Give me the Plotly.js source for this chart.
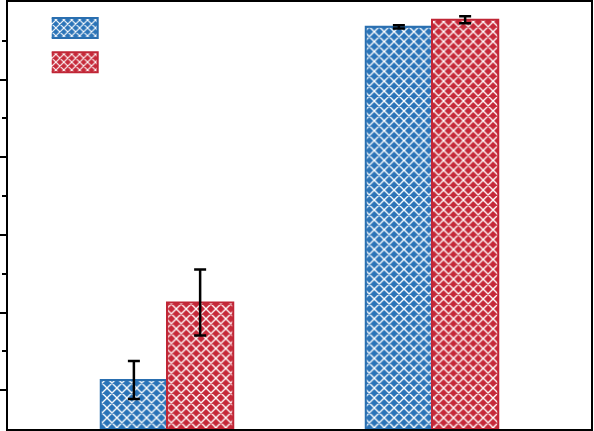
<!DOCTYPE html>
<html>
<head>
<meta charset="utf-8">
<script src="https://cdn.plot.ly/plotly-3.0.1.min.js"></script>
<style>html,body{margin:0;padding:0;background:#fff;}#chart{width:594px;height:431px;}</style>
</head>
<body>
<div id="chart"></div>
<script>
// Data (arbitrary y units; axis carries no labels)
const categories = ["A", "B"];
const seriesNames = ["", " "];
const blueValues = [1.26, 10.36];
const blueErrors = [0.49, 0.04];
const redValues = [3.26, 10.54];
const redErrors = [0.85, 0.09];
const majorTicks = [1, 3, 5, 7, 9];
const minorTicks = [2, 4, 6, 8, 10];

const BLUE = "#2b74b8", BLUE_EDGE = "#2a6fb0";
const RED = "#c62a3a", RED_EDGE = "#c02636";

function barTrace(name, vals, errs, color, edge) {
  return {
    type: "bar", name: name, x: categories, y: vals,
    marker: {
      color: color,
      line: {color: edge, width: 2},
      pattern: {shape: "x", bgcolor: color, fgcolor: "#ffffff", size: 7, solidity: 0.35, fillmode: "replace"}
    },
    error_y: {type: "data", array: errs, visible: true, color: "#000", thickness: 2.5, width: 6}
  };
}

const data = [
  barTrace(seriesNames[0], blueValues, blueErrors, BLUE, BLUE_EDGE),
  barTrace(seriesNames[1], redValues, redErrors, RED, RED_EDGE)
];

const layout = {
  width: 594, height: 431,
  margin: {l: 8, r: 3, t: 2, b: 2, pad: 0},
  paper_bgcolor: "#fff", plot_bgcolor: "#fff",
  barmode: "group", bargap: 0.5, bargroupgap: 0,
  showlegend: true,
  legend: {x: 0.075, y: 0.991, xanchor: "left", yanchor: "top", bgcolor: "rgba(0,0,0,0)",
           font: {family: "Liberation Sans", size: 24}},
  xaxis: {range: [-0.6, 1.6], showticklabels: false, ticks: "", showgrid: false, zeroline: false,
          showline: true, linecolor: "#000", linewidth: 2, mirror: true},
  yaxis: {range: [0, 11], showticklabels: false, showgrid: false, zeroline: false,
          showline: true, linecolor: "#000", linewidth: 2, mirror: true,
          tickmode: "array", tickvals: majorTicks, ticks: "outside", ticklen: 8, tickwidth: 2, tickcolor: "#000",
          minor: {tickmode: "array", tickvals: minorTicks, ticks: "outside", ticklen: 4, tickwidth: 2, tickcolor: "#000", showgrid: false}}
};

Plotly.newPlot("chart", data, layout, {displayModeBar: false, staticPlot: true}).then(function (gd) {
  // Widen the legend swatches into the wide rectangles of the reference
  gd.querySelectorAll(".legend .legendpoints path").forEach(function (p) {
    p.setAttribute("d", "M-22,-10H26V10H-22Z");
  });
});
</script>
</body>
</html>
